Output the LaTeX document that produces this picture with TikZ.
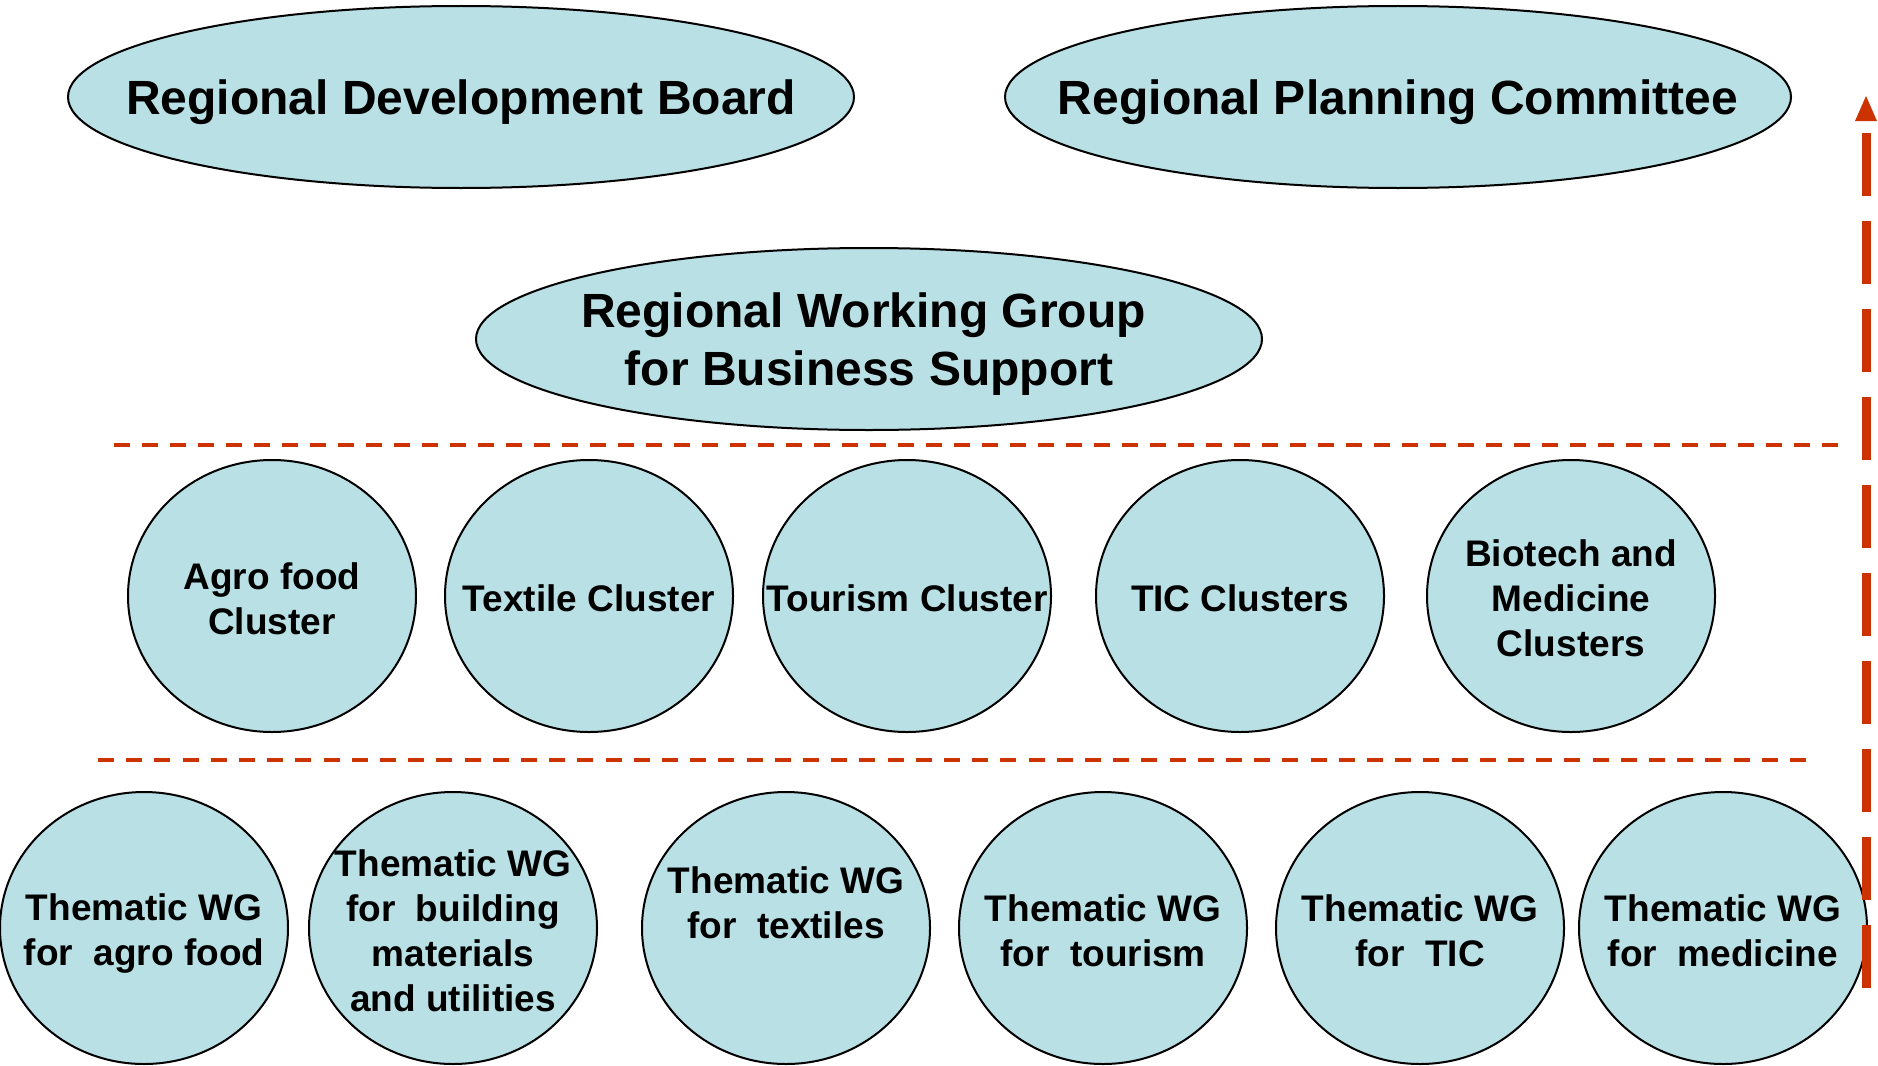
\documentclass[tikz,border=0pt]{standalone}
\usepackage{fontspec}
\setmainfont{Liberation Sans}
\usetikzlibrary{shapes.geometric}
\definecolor{bubble}{RGB}{185,224,228}
\definecolor{sep}{RGB}{204,51,0}
\tikzset{
  bigtext/.style={align=center,font=\fontsize{48}{58}\selectfont\bfseries,yshift=-5pt},
  smalltext/.style={align=center,font=\fontsize{37}{45}\selectfont\bfseries,yshift=-2.5pt},
  big/.style={ellipse,draw=black,line width=2pt,fill=bubble,minimum width=786pt,minimum height=182pt,inner sep=0pt,label={[bigtext]center:#1}},
  bubblenode/.style={ellipse,draw=black,line width=2pt,fill=bubble,minimum width=288pt,minimum height=272pt,inner sep=0pt,label={[smalltext]center:#1}},
  bubblenode/.default={},
  sepline/.style={draw=sep,line width=4pt,dash pattern=on 16pt off 12pt},
  uparrow/.style={draw=sep,line width=9pt,dash pattern=on 63pt off 25pt},
  tipfill/.style={fill=sep}
}
\begin{document}
\begin{tikzpicture}[x=1pt,y=-1pt]
\useasboundingbox (0,0) rectangle (1878,1065);
% top ellipses
\node[big={Regional Development Board}] (rdb) at (461,97) {};
\node[big={Regional Planning Committee}] (rpc) at (1398,97) {};
\node[big={Regional Working Group\hspace*{11pt}\null\\for Business Support}] (rwg) at (869,339) {};
% separators
\coordinate (s1a) at (114,445);
\coordinate (s1b) at (1838,445);
\coordinate (s2a) at (98,760);
\coordinate (s2b) at (1806,760);
\draw[sepline] (s1a) -- (s1b);
\draw[sepline,dash pattern=on 16pt off 12.2pt] (s2a) -- (s2b);
% clusters
\node[bubblenode={Agro food\\Cluster}] (agro) at (272,596) {};
\node[bubblenode={Textile Cluster}] (textile) at (589,596) {};
\node[bubblenode={Tourism Cluster}] (tourism) at (907,596) {};
\node[bubblenode={TIC Clusters}] (tic) at (1240,596) {};
\node[bubblenode={Biotech and\\Medicine\\Clusters}] (bio) at (1571,596) {};
% thematic WGs
\node[bubblenode] (wgagro) at (144,928) {};
\node[smalltext,yshift=-3.5pt] (wgagrolabel) at (wgagro) {Thematic WG\\for\ \ agro food};
\node[bubblenode={Thematic WG\\for\ \ building\\materials\\and utilities}] (wgbuild) at (453,928) {};
\node[bubblenode] (wgtex) at (786,928) {};
\node[smalltext] (wgtexlabel) at (786,900) {Thematic WG\\for\ \ textiles};
\node[bubblenode={Thematic WG\\for\ \ tourism}] (wgtour) at (1103,928) {};
\node[bubblenode={Thematic WG\\for\ \ TIC}] (wgtic) at (1420,928) {};
\node[bubblenode={Thematic WG\\for\ \ medicine}] (wgmed) at (1723,928) {};
% right arrow
\coordinate (abot) at (1866,988);
\coordinate (abase) at (1866,121);
\coordinate (atop) at (1866,96);
\draw[uparrow] (abot) -- (abase);
\fill[tipfill] (atop) -- ([xshift=-11pt]abase) -- ([xshift=11pt]abase) -- cycle;
\end{tikzpicture}
\end{document}
